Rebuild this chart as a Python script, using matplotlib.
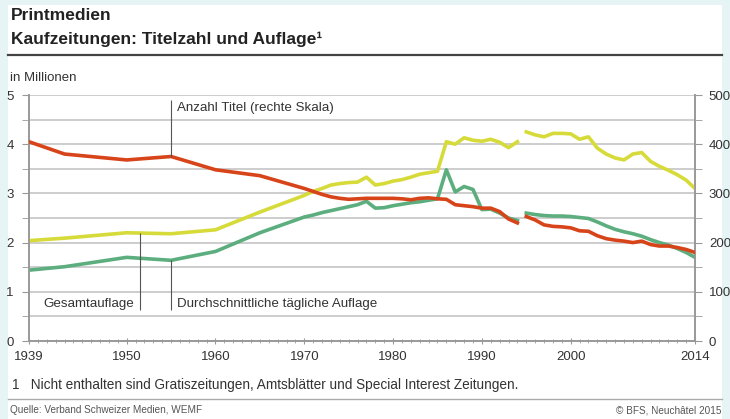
import matplotlib.pyplot as plt
from matplotlib.patches import Rectangle
from matplotlib.lines import Line2D
from matplotlib.ticker import MultipleLocator

plt.rcParams['font.family'] = ['Liberation Sans', 'DejaVu Sans']

years = [1939, 1943, 1950, 1955, 1960, 1965, 1970, 1971, 1972, 1973, 1974,
         1975, 1976, 1977, 1978, 1979, 1980, 1981, 1982, 1983, 1984, 1985,
         1986, 1987, 1988, 1989, 1990, 1991, 1992, 1993, 1994,
         1995, 1996, 1997, 1998, 1999, 2000, 2001, 2002, 2003, 2004, 2005,
         2006, 2007, 2008, 2009, 2010, 2011, 2012, 2013, 2014]

# Gesamtauflage (Mio.)
gesamt = [2.04, 2.09, 2.20, 2.18, 2.26, 2.62, 2.96, 3.04, 3.10, 3.17, 3.20,
          3.22, 3.23, 3.33, 3.17, 3.20, 3.25, 3.28, 3.33, 3.39, 3.42, 3.45,
          4.05, 4.00, 4.13, 4.08, 4.06, 4.10, 4.04, 3.93, 4.05,
          4.25, 4.19, 4.15, 4.22, 4.22, 4.21, 4.10, 4.15, 3.92, 3.80, 3.72,
          3.68, 3.80, 3.83, 3.65, 3.55, 3.47, 3.38, 3.27, 3.10]

# Durchschnittliche taegliche Auflage (Mio.)
taeglich = [1.44, 1.51, 1.70, 1.64, 1.82, 2.20, 2.52, 2.56, 2.61, 2.65, 2.69,
            2.73, 2.77, 2.84, 2.70, 2.71, 2.75, 2.78, 2.81, 2.83, 2.86, 2.89,
            3.48, 3.03, 3.14, 3.08, 2.67, 2.68, 2.60, 2.50, 2.45,
            2.60, 2.57, 2.55, 2.54, 2.54, 2.53, 2.51, 2.49, 2.42, 2.34, 2.27,
            2.22, 2.18, 2.13, 2.06, 2.00, 1.95, 1.88, 1.80, 1.70]

# Anzahl Titel (rechte Skala)
titel = [405, 380, 368, 375, 348, 336, 310, 304, 298, 293, 290,
         288, 289, 290, 290, 290, 290, 289, 287, 290, 291, 289,
         288, 277, 275, 273, 270, 270, 263, 248, 240,
         253, 246, 236, 233, 232, 230, 224, 223, 214, 208, 205,
         203, 200, 203, 196, 193, 193, 190, 186, 180]

xticks = [1939, 1950, 1960, 1970, 1980, 1990, 2000, 2014]

red = '#d8441a'
yellow = '#d6db3a'
green = '#5cae7e'
grid_c = '#c9c9c9'
axis_c = '#999999'
text_c = '#333333'

fig = plt.figure(figsize=(7.3, 4.19), dpi=100)
fig.patch.set_facecolor('#e6f4f6')
fig.patches.append(Rectangle((8 / 730, 0), 714 / 730, 414 / 419,
                             transform=fig.transFigure, facecolor='white',
                             edgecolor='none', zorder=-5))

fig.text(11 / 730, 1 - 16 / 419, 'Printmedien', fontsize=12.5, fontweight='bold',
         color='#222222', va='center')
fig.text(11 / 730, 1 - 39 / 419, 'Kaufzeitungen: Titelzahl und Auflage\u00b9',
         fontsize=12.5, fontweight='bold', color='#222222', va='center')
fig.add_artist(Line2D([8 / 730, 722 / 730], [1 - 55 / 419, 1 - 55 / 419],
                      transform=fig.transFigure, color='#444444', lw=1.6))
fig.text(10 / 730, 1 - 78 / 419, 'in Millionen', fontsize=9.5, color=text_c, va='center')

ax = fig.add_axes([29 / 730, 1 - 341 / 419, 666 / 730, 246 / 419])
ax2 = ax.twinx()

split = years.index(1995)
for a, vals, c in [(ax, gesamt, yellow), (ax, taeglich, green), (ax2, titel, red)]:
    a.plot(years[:split], vals[:split], color=c, lw=2.6, solid_joinstyle='round', zorder=3)
    a.plot(years[split:], vals[split:], color=c, lw=2.6, solid_joinstyle='round', zorder=3)

ax.set_xlim(1939, 2014)
ax.set_ylim(0, 5)
ax2.set_ylim(0, 500)

ax.set_xticks(xticks)
ax.xaxis.set_minor_locator(MultipleLocator(1))
ax.yaxis.set_major_locator(MultipleLocator(1))
ax.yaxis.set_minor_locator(MultipleLocator(0.5))
ax2.yaxis.set_major_locator(MultipleLocator(100))
ax2.yaxis.set_minor_locator(MultipleLocator(50))
ax.grid(True, which='both', axis='y', color=grid_c, lw=1.3, zorder=0)

for a in (ax, ax2):
    a.spines['top'].set_visible(False)
    for s in ['left', 'right', 'bottom']:
        a.spines[s].set_color(axis_c)
        a.spines[s].set_linewidth(1.2)
    a.tick_params(which='both', colors=axis_c, labelcolor=text_c, labelsize=9.5)
ax.tick_params(axis='x', which='major', length=5, direction='inout', pad=5)
ax.tick_params(axis='x', which='minor', length=3, direction='inout')
ax.tick_params(axis='y', which='both', length=5, pad=6)
ax2.tick_params(axis='y', which='both', length=5, pad=5)
ax.set_axisbelow(True)

# Beschriftungen mit Zeigerlinien
i55 = years.index(1955)
ax2.vlines(1955, titel[i55], 490, color='#555555', lw=0.8, zorder=4)
ax.text(1955.7, 4.73, 'Anzahl Titel (rechte Skala)', fontsize=9.6, color=text_c, va='center')
ax.vlines(1951.5, 0.63, 2.19, color='#555555', lw=0.8, zorder=4)
ax.text(1950.8, 0.76, 'Gesamtauflage', fontsize=9.6, color=text_c, va='center', ha='right')
ax.vlines(1955, 0.63, taeglich[i55], color='#555555', lw=0.8, zorder=4)
ax.text(1955.7, 0.76, 'Durchschnittliche t\u00e4gliche Auflage', fontsize=9.6,
        color=text_c, va='center')

fig.text(12 / 730, 1 - 385 / 419,
         '1   Nicht enthalten sind Gratiszeitungen, Amtsbl\u00e4tter und Special Interest Zeitungen.',
         fontsize=9.8, color=text_c, va='center')
fig.add_artist(Line2D([8 / 730, 722 / 730], [1 - 399 / 419, 1 - 399 / 419],
                      transform=fig.transFigure, color='#aaaaaa', lw=1.0))
fig.text(10 / 730, 1 - 410 / 419, 'Quelle: Verband Schweizer Medien, WEMF',
         fontsize=7.2, color='#555555', va='center')
fig.text(722 / 730, 1 - 410 / 419, '\u00a9 BFS, Neuch\u00e2tel 2015',
         fontsize=7.2, color='#555555', va='center', ha='right')

fig.savefig('out.png', dpi=100, facecolor=fig.get_facecolor())
